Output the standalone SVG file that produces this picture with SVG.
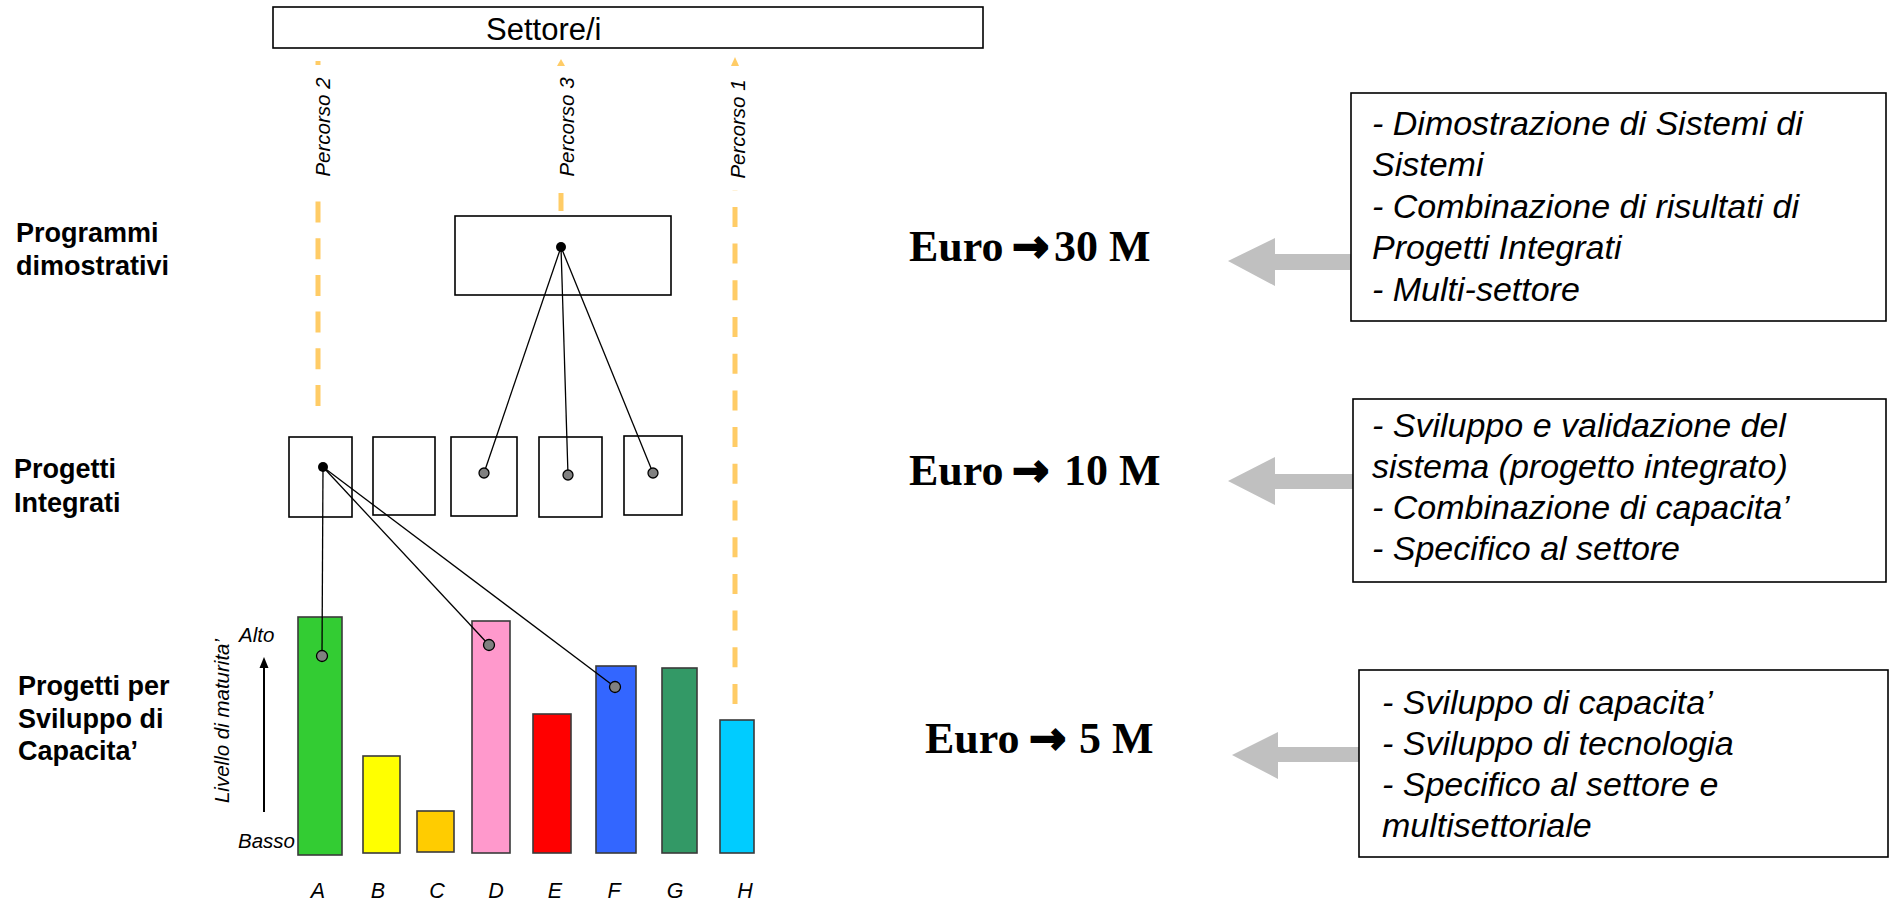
<svg xmlns="http://www.w3.org/2000/svg" width="1890" height="902" viewBox="0 0 1890 902">
<style>
.box{fill:#fff;stroke:#000;stroke-width:1.6}
.lbl{font-family:"Liberation Sans",Arial,sans-serif;font-weight:bold;font-size:27px;fill:#000}
.it{font-family:"Liberation Sans",Arial,sans-serif;font-style:italic;fill:#000}
.euro{font-family:"Liberation Serif","Times New Roman",serif;font-weight:bold;font-size:44px;fill:#000}
.arr{font-family:"DejaVu Sans",sans-serif;font-weight:bold;font-size:44px;stroke:#000;stroke-width:2.2}
.dash{stroke:#FFCC66;stroke-width:5;fill:none}
.con{stroke:#000;stroke-width:1.3;fill:none}
.bar{stroke:#3a3a3a;stroke-width:1.6}
.gdot{fill:#808080;stroke:#000;stroke-width:1.3}
.bdot{fill:#000}
.garrow{fill:#C0C0C0}
</style>

<g id="settore">
<rect class="box" x="273" y="7" width="710" height="41"/>
<text x="486" y="40" font-family="'Liberation Sans',Arial,sans-serif" font-size="31" fill="#000">Settore/i</text>
</g>

<g id="percorsi">
<path class="dash" d="M318,406 V200" stroke-dasharray="21 15.7"/>
<path class="dash" d="M318,61 V65"/>
<path class="dash" d="M561,211 V193"/>
<polygon points="561,59 557,66 565,66" fill="#FFCC66"/>
<path class="dash" d="M735,704 V190" stroke-dasharray="20 16.7"/>
<polygon points="735,57 731,66 739,66" fill="#FFCC66"/>
<text class="it" font-size="20.5" text-anchor="middle" transform="translate(330,127) rotate(-90)">Percorso 2</text>
<text class="it" font-size="20.5" text-anchor="middle" transform="translate(574,127) rotate(-90)">Percorso 3</text>
<text class="it" font-size="20.5" text-anchor="middle" transform="translate(745,129) rotate(-90)">Percorso 1</text>
</g>

<g id="labels-left">
<text class="lbl" x="16" y="242">Programmi</text>
<text class="lbl" x="16" y="275">dimostrativi</text>
<text class="lbl" x="14" y="478">Progetti</text>
<text class="lbl" x="14" y="512">Integrati</text>
<text class="lbl" x="18" y="695">Progetti per</text>
<text class="lbl" x="18" y="728">Sviluppo di</text>
<text class="lbl" x="18" y="760">Capacita’</text>
</g>

<g id="programma-dimostrativo">
<rect class="box" x="455" y="216" width="216" height="79"/>
</g>

<g id="progetti-integrati">
<rect class="box" x="289" y="437" width="63" height="80"/>
<rect class="box" x="373" y="437" width="62" height="78"/>
<rect class="box" x="451" y="437" width="66" height="79"/>
<rect class="box" x="539" y="437" width="63" height="80"/>
<rect class="box" x="624" y="436" width="58" height="79"/>
</g>

<g id="asse-maturita">
<text class="it" font-size="20.5" text-anchor="middle" transform="translate(229,721) rotate(-90)">Livello di maturita’</text>
<line x1="264" y1="812" x2="264" y2="666" stroke="#000" stroke-width="2"/>
<polygon points="264,657 259.5,668 268.5,668" fill="#000"/>
<text class="it" font-size="20.5" x="239" y="642">Alto</text>
<text class="it" font-size="20.5" x="238" y="848">Basso</text>
</g>

<g id="barre">
<rect class="bar" x="298" y="617" width="44" height="238" fill="#33CC33"/>
<rect class="bar" x="363" y="756" width="37" height="97" fill="#FFFF00"/>
<rect class="bar" x="417" y="811" width="37" height="41" fill="#FFCC00"/>
<rect class="bar" x="472" y="621" width="38" height="232" fill="#FF99CC"/>
<rect class="bar" x="533" y="714" width="38" height="139" fill="#FF0000" stroke="#000"/>
<rect class="bar" x="596" y="666" width="40" height="187" fill="#3366FF"/>
<rect class="bar" x="662" y="668" width="35" height="185" fill="#339966"/>
<rect class="bar" x="720" y="720" width="34" height="133" fill="#00CCFF"/>
</g>

<g id="lettere">
<text class="it" font-size="21.5" text-anchor="middle" x="318" y="898">A</text>
<text class="it" font-size="21.5" text-anchor="middle" x="378" y="898">B</text>
<text class="it" font-size="21.5" text-anchor="middle" x="437" y="898">C</text>
<text class="it" font-size="21.5" text-anchor="middle" x="496" y="898">D</text>
<text class="it" font-size="21.5" text-anchor="middle" x="555" y="898">E</text>
<text class="it" font-size="21.5" text-anchor="middle" x="614" y="898">F</text>
<text class="it" font-size="21.5" text-anchor="middle" x="675" y="898">G</text>
<text class="it" font-size="21.5" text-anchor="middle" x="745" y="898">H</text>
</g>

<g id="connectors">
<line class="con" x1="561" y1="247" x2="484" y2="473"/>
<line class="con" x1="561" y1="247" x2="568" y2="475"/>
<line class="con" x1="561" y1="247" x2="653" y2="473"/>
<line class="con" x1="323" y1="467" x2="322" y2="656"/>
<line class="con" x1="323" y1="467" x2="489" y2="645"/>
<line class="con" x1="323" y1="467" x2="615" y2="687"/>
<circle class="bdot" cx="561" cy="247" r="5"/>
<circle class="bdot" cx="323" cy="467" r="5"/>
<circle class="gdot" cx="484" cy="473" r="5"/>
<circle class="gdot" cx="568" cy="475" r="5"/>
<circle class="gdot" cx="653" cy="473" r="5"/>
<circle class="gdot" cx="322" cy="656" r="5.5"/>
<circle class="gdot" cx="489" cy="645" r="5.5"/>
<circle class="gdot" cx="615" cy="687" r="5.5"/>
</g>

<g id="euro-30">
<text class="euro" y="261"><tspan x="909">Euro </tspan><tspan class="arr" x="1012">→</tspan><tspan x="1054">30 M</tspan></text>
</g>
<g id="euro-10">
<text class="euro" y="485"><tspan x="909">Euro </tspan><tspan class="arr" x="1012">→ </tspan><tspan x="1064">10 M</tspan></text>
</g>
<g id="euro-5">
<text class="euro" y="753"><tspan x="925">Euro </tspan><tspan class="arr" x="1029">→ </tspan><tspan x="1079">5 M</tspan></text>
</g>

<g id="frecce-grigie">
<polygon class="garrow" points="1228,261 1275,238 1275,254 1351,254 1351,270 1275,270 1275,286"/>
<polygon class="garrow" points="1228,481 1275,457 1275,474 1354,474 1354,489 1275,489 1275,505"/>
<polygon class="garrow" points="1232,755 1278,732 1278,747 1360,747 1360,762 1278,762 1278,779"/>
</g>

<g id="box-1">
<rect class="box" x="1351" y="93" width="535" height="228"/>
<g class="it" font-size="34">
<text x="1372" y="135">- Dimostrazione di Sistemi di</text>
<text x="1372" y="176">Sistemi</text>
<text x="1372" y="218">- Combinazione di risultati di</text>
<text x="1372" y="259">Progetti Integrati</text>
<text x="1372" y="301">- Multi-settore</text>
</g>
</g>

<g id="box-2">
<rect class="box" x="1353" y="399" width="533" height="183"/>
<g class="it" font-size="34">
<text x="1372" y="437">- Sviluppo e validazione del</text>
<text x="1372" y="478">sistema (progetto integrato)</text>
<text x="1372" y="519">- Combinazione di capacita’</text>
<text x="1372" y="560">- Specifico al settore</text>
</g>
</g>

<g id="box-3">
<rect class="box" x="1359" y="670" width="529" height="187"/>
<g class="it" font-size="34">
<text x="1382" y="714">- Sviluppo di capacita’</text>
<text x="1382" y="755">- Sviluppo di tecnologia</text>
<text x="1382" y="796">- Specifico al settore e</text>
<text x="1382" y="837">multisettoriale</text>
</g>
</g>
</svg>
